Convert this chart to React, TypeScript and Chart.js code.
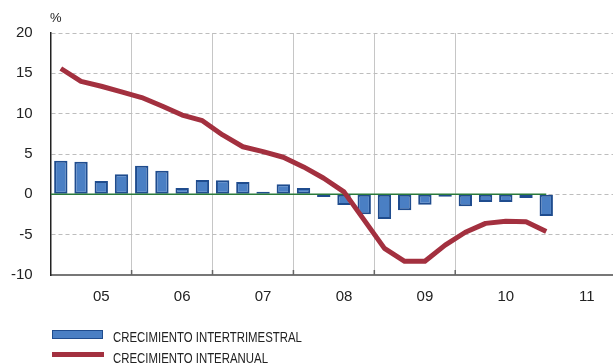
import React, { useEffect, useRef } from 'react';
import { Chart, registerables } from 'chart.js';

Chart.register(...registerables);

// Quarterly categories (2005 T1 .. 2011 T1)
const quarters = [
  '2005-T1', '2005-T2', '2005-T3', '2005-T4',
  '2006-T1', '2006-T2', '2006-T3', '2006-T4',
  '2007-T1', '2007-T2', '2007-T3', '2007-T4',
  '2008-T1', '2008-T2', '2008-T3', '2008-T4',
  '2009-T1', '2009-T2', '2009-T3', '2009-T4',
  '2010-T1', '2010-T2', '2010-T3', '2010-T4',
  '2011-T1',
];

// Crecimiento intertrimestral (%)
const intertrimestral = [
  4.17, 4.05, 1.65, 2.48,
  3.55, 2.93, 0.79, 1.78,
  1.74, 1.53, 0.33, 1.24,
  0.79, -0.33, -1.32, -2.48,
  -3.06, -1.98, -1.28, -0.29,
  -1.49, -0.95, -0.95, -0.45,
  -2.69,
];

// Crecimiento interanual (%)
const interanual = [
  15.6, 14.0, 13.4, 12.7,
  12.0, 10.95, 9.83, 9.13,
  7.36, 5.9, 5.3, 4.6,
  3.4, 2.0, 0.3, -3.2,
  -6.7, -8.3, -8.3, -6.3,
  -4.7, -3.6, -3.35, -3.4,
  -4.6,
];

const yearLabels = ['05', '06', '07', '08', '09', '10', '11'];
const yMin = -10;
const yMax = 20;
const yStep = 5;

const BLUE = '#4a7fc4';
const BLUE_BORDER = '#1f4c8e';
const RED = '#a3303f';
const GREEN = '#2b7a3a';
const TEXT = '#222222';

export default function App() {
  const ref = useRef<HTMLCanvasElement>(null);

  useEffect(() => {
    if (!ref.current) return;
    const xs = quarters.map((_, i) => i + 0.5);
    const barData = intertrimestral.map((v, i) => ({ x: xs[i], y: v }));
    const lineData = interanual.map((v, i) => ({ x: xs[i], y: v }));
    const zeroData = [{ x: 0, y: 0 }, { x: xs[xs.length - 1], y: 0 }];
    const boundaries = yearLabels.slice(0, -1).map((_, i) => i * 4);
    const labelPos = yearLabels.map((_, i) => i * 4 + 2.5);

    const innerTicks = {
      id: 'innerTicks',
      afterDraw(chart: any) {
        const { ctx, chartArea, scales } = chart;
        const xs2 = scales.x;
        ctx.save();
        ctx.strokeStyle = '#666';
        ctx.lineWidth = 1.5;
        boundaries.forEach((b) => {
          if (b === 0) return;
          const px = xs2.getPixelForValue(b);
          ctx.beginPath();
          ctx.moveTo(px, chartArea.bottom - 5);
          ctx.lineTo(px, chartArea.bottom);
          ctx.stroke();
        });
        ctx.restore();
      },
    };

    const chart = new Chart(ref.current, {
      type: 'bar',
      data: {
        datasets: [
          {
            type: 'line',
            label: 'CRECIMIENTO INTERANUAL',
            data: lineData,
            borderColor: RED,
            borderWidth: 5,
            pointRadius: 0,
            tension: 0,
            borderJoinStyle: 'round',
            order: 0,
          } as any,
          {
            type: 'line',
            label: 'cero',
            data: zeroData,
            borderColor: GREEN,
            borderWidth: 1.5,
            pointRadius: 0,
            order: 1,
          } as any,
          {
            type: 'bar',
            label: 'CRECIMIENTO INTERTRIMESTRAL',
            data: barData,
            backgroundColor: BLUE,
            borderColor: BLUE_BORDER,
            borderWidth: 2,
            borderSkipped: false,
            barPercentage: 0.66,
            categoryPercentage: 1,
            order: 2,
          } as any,
        ],
      },
      options: {
        animation: false,
        responsive: false,
        layout: { padding: { top: 33, left: 0, right: 0, bottom: 0 } },
        plugins: {
          legend: { display: false },
          tooltip: { enabled: false },
        },
        scales: {
          x: {
            type: 'linear',
            offset: false,
            min: 0,
            max: 27.8,
            afterBuildTicks: (scale: any) => {
              scale.ticks = [...boundaries, ...labelPos]
                .sort((a, b) => a - b)
                .map((v) => ({ value: v }));
            },
            afterFit: (scale: any) => {
              scale.height = 88;
            },
            grid: {
              offset: false,
              drawTicks: false,
              lineWidth: 1,
              color: (ctx: any) => {
                const v = ctx.tick ? ctx.tick.value : null;
                return v !== null && boundaries.includes(v) && v !== 0 ? '#c6c6c6' : 'rgba(0,0,0,0)';
              },
            },
            border: { color: '#777', width: 2 },
            ticks: {
              autoSkip: false,
              maxRotation: 0,
              padding: 13,
              color: TEXT,
              font: { family: '"Liberation Sans", Arial, sans-serif', size: 15 },
              callback: (value: any) => {
                const idx = labelPos.indexOf(Number(value));
                return idx >= 0 ? yearLabels[idx] : '';
              },
            },
          },
          y: {
            min: yMin,
            max: yMax,
            afterFit: (scale: any) => {
              scale.width = 50.7;
            },
            grid: {
              drawTicks: false,
              lineWidth: 1,
              color: (ctx: any) => (ctx.tick && ctx.tick.value === yMin ? 'rgba(0,0,0,0)' : '#bdbdbd'),
            },
            border: { color: '#222', width: 1.5, dash: [4, 3] },
            ticks: {
              stepSize: yStep,
              padding: 18,
              color: TEXT,
              font: { family: '"Liberation Sans", Arial, sans-serif', size: 15 },
            },
          },
        },
      },
      plugins: [innerTicks],
    });
    return () => chart.destroy();
  }, []);

  const legendFont = '"Liberation Sans", Arial, sans-serif';
  const legendText: React.CSSProperties = {
    position: 'absolute', left: 113, fontFamily: legendFont, fontSize: 15,
    color: TEXT, lineHeight: '16px', whiteSpace: 'nowrap',
    transform: 'scaleX(0.76)', transformOrigin: 'left center',
  };

  return (
    <div style={{ position: 'fixed', left: 0, top: 0, width: 613, height: 363, background: '#fff', overflow: 'hidden' }}>
      <canvas ref={ref} width={613} height={363} style={{ position: 'absolute', left: 0, top: 0 }} />
      <div
        style={{
          position: 'absolute', left: 50, top: 11, fontFamily: '"Liberation Sans", Arial, sans-serif',
          fontSize: 13, color: TEXT, lineHeight: '14px',
        }}
      >
        %
      </div>
      <div style={{ position: 'absolute', left: 52, top: 330, width: 49, height: 7, background: BLUE, border: `1.5px solid ${BLUE_BORDER}` }} />
      <div style={{ ...legendText, top: 329 }}>CRECIMIENTO INTERTRIMESTRAL</div>
      <div style={{ position: 'absolute', left: 52, top: 352, width: 52, height: 5, background: RED }} />
      <div style={{ ...legendText, top: 350 }}>CRECIMIENTO INTERANUAL</div>
    </div>
  );
}
